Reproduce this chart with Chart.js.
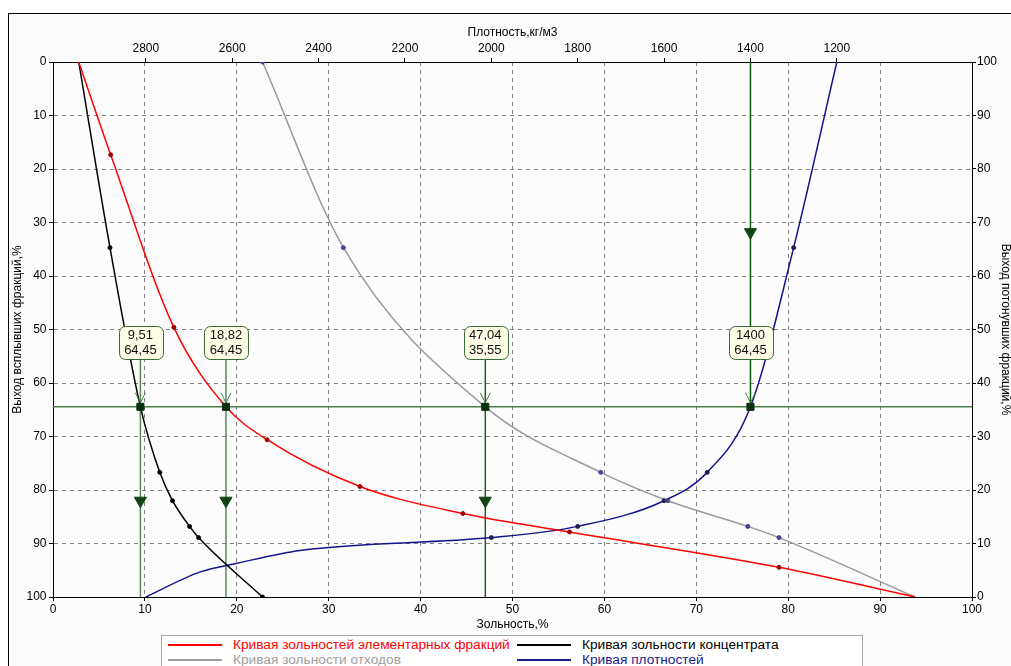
<!DOCTYPE html>
<html>
<head>
<meta charset="utf-8">
<script src="https://cdn.jsdelivr.net/npm/chart.js@4.4.1/dist/chart.umd.min.js"></script>
<style>
    html, body { margin: 0; padding: 0; background: #fff; }
    body { width: 1011px; height: 666px; overflow: hidden; position: relative; font-family: "Liberation Sans", Arial, sans-serif; }
    #frame { position: absolute; left: 8px; top: 13px; width: 1010px; height: 660px; border-left: 1px solid #000; border-top: 1px solid #000; background: #fcfcfc; }
    #chart { position: absolute; left: 0; top: 0; }
    #legend { position: absolute; left: 161px; top: 635px; width: 700px; height: 40px; border: 1px solid #a8a8a8; background: #fff; font-size: 13.7px; }
    #legend .item { position: absolute; height: 15px; line-height: 15px; white-space: nowrap; }
    #legend .ln { position: absolute; top: 7px; width: 54px; height: 1.5px; }
    #legend .tx { position: absolute; }
</style>
</head>
<body>
<div id="frame"></div>
<canvas id="chart" width="1011" height="666"></canvas>
<div id="legend"></div>
<script>
// elementary fractions (red): ash of each fraction at the middle of its yield band
const redDotAsh = [6.28, 13.15, 23.3, 33.4, 44.6, 56.2, 79.0];
const redDotYield = [17.35, 49.6, 70.6, 79.35, 84.4, 87.85, 94.45];
const redEndAsh = [2.8, 18.82, 93.8];
const redEndYield = [0, 64.45, 100];

// concentrate (black)
const blackDotAsh = [6.2, 11.62, 13.0, 14.86, 15.84, 22.8];
const blackDotYield = [34.7, 76.7, 82.0, 86.8, 88.9, 100];
const blackEndAsh = [2.8, 9.51];
const blackEndYield = [0, 64.45];

// tailings (gray), right axis = sinks yield
const grayDotAsh = [22.8, 31.6, 59.6, 66.9, 75.6, 79.0];
const grayDotSinks = [100, 65.3, 23.3, 18.0, 13.2, 11.1];
const grayEndAsh = [47.04, 93.8];
const grayEndSinks = [35.55, 0];

// density curve (blue), top axis
const blueDotDensity = [1300, 1500, 1600, 1800, 2000];
const blueDotYield = [34.7, 76.7, 82.0, 86.8, 88.9];
const blueEndDensity = [1200, 1400, 2443, 2589, 2674, 2800];
const blueEndYield = [0, 64.45, 91.3, 93.7, 95.3, 100];

const densityTicks = [2800, 2600, 2400, 2200, 2000, 1800, 1600, 1400, 1200];

// cut at density 1400
const cutDensity = 1400;
const cutYield = 64.45;
const cutAsh = [9.51, 18.82, 47.04];
const cutSecond = [64.45, 64.45, 35.55];
const arrowYield = 82;
const arrowYieldTop = 31.8;

const seriesNames = ['Кривая зольностей элементарных фракций', 'Кривая зольности концентрата', 'Кривая зольности отходов', 'Кривая плотностей'];
const seriesColors = ['#ff0000', '#000000', '#a0a0a0', '#1c1c8c'];

const pts = (xs, ys) => xs.map((x, i) => ({ x: x, y: ys[i] }));
const curve = (a, b, key) => a.concat(b).sort((p, q) => p[key] - q[key]);
const fmt = v => v.toFixed(2).replace('.', ',');

const FONT = 'Liberation Sans';
const tickFont = { family: FONT, size: 12 };

function line(ctx, x1, y1, x2, y2) {
    ctx.beginPath();
    ctx.moveTo(x1, y1);
    ctx.lineTo(x2, y2);
    ctx.stroke();
}

const guides = {
    id: 'guides',
    beforeDatasetsDraw(chart) {
        const { ctx, chartArea: a, scales } = chart;
        const yPx = scales.y.getPixelForValue(cutYield);
        ctx.save();
        ctx.lineWidth = 1.5;
        ctx.strokeStyle = '#4b7d4b';
        line(ctx, a.left, yPx, a.right, yPx);
        cutAsh.forEach((v, i) => {
            const x = scales.x.getPixelForValue(v);
            ctx.strokeStyle = i < 2 ? '#5a8a5a' : '#1f5f1f';
            line(ctx, x, yPx - 48, x, a.bottom);
        });
        const xd = scales.x2.getPixelForValue(cutDensity);
        ctx.strokeStyle = '#0c5c0c';
        line(ctx, xd, a.top, xd, yPx);
        ctx.restore();
    },
    afterDatasetsDraw(chart) {
        const { ctx, scales } = chart;
        const yPx = scales.y.getPixelForValue(cutYield);
        const marks = cutAsh.map((v, i) => ({ x: scales.x.getPixelForValue(v), t: [fmt(v), fmt(cutSecond[i])] }));
        marks.push({ x: scales.x2.getPixelForValue(cutDensity), t: [String(cutDensity), fmt(cutYield)] });
        ctx.save();
        marks.forEach(m => {
            // open arrow head above the point
            ctx.strokeStyle = '#3f7f3f';
            ctx.lineWidth = 1;
            ctx.beginPath();
            ctx.moveTo(m.x - 5, yPx - 14);
            ctx.lineTo(m.x, yPx - 4);
            ctx.lineTo(m.x + 5, yPx - 14);
            ctx.stroke();
            // label box
            ctx.font = '13px ' + FONT;
            const w = Math.max(ctx.measureText(m.t[0]).width, ctx.measureText(m.t[1]).width) + 11;
            const h = 33;
            const top = yPx - 48 - h;
            ctx.beginPath();
            ctx.roundRect(Math.round(m.x - w / 2) + 0.5, Math.round(top) + 0.5, Math.round(w), h, 6);
            ctx.fillStyle = '#fdfde6';
            ctx.fill();
            ctx.strokeStyle = '#3a6a3a';
            ctx.stroke();
            ctx.fillStyle = '#111';
            ctx.textAlign = 'center';
            ctx.textBaseline = 'middle';
            ctx.fillText(m.t[0], m.x, top + 9.5);
            ctx.fillText(m.t[1], m.x, top + 25);
        });
        ctx.restore();
    }
};

const axisBorder = { display: true, color: '#000', width: 1, dash: [4, 4] };

new Chart('chart', {
    type: 'line',
    data: {
        datasets: [
            {
                data: pts(cutAsh, cutAsh.map(() => cutYield)), xAxisID: 'x', yAxisID: 'y',
                showLine: false, pointStyle: 'rect', pointRadius: 5, backgroundColor: '#0b2e0b', borderColor: '#0b2e0b', order: -2
            },
            {
                data: [{ x: cutDensity, y: cutYield }], xAxisID: 'x2', yAxisID: 'y',
                showLine: false, pointStyle: 'rect', pointRadius: 5, backgroundColor: '#0b2e0b', borderColor: '#0b2e0b', order: -2
            },
            {
                data: pts(cutAsh, cutAsh.map(() => arrowYield)), xAxisID: 'x', yAxisID: 'y',
                showLine: false, pointStyle: 'triangle', rotation: 180, pointRadius: 7, backgroundColor: '#144414', borderColor: '#144414', order: -2
            },
            {
                data: [{ x: cutDensity, y: arrowYieldTop }], xAxisID: 'x2', yAxisID: 'y',
                showLine: false, pointStyle: 'triangle', rotation: 180, pointRadius: 7, backgroundColor: '#144414', borderColor: '#144414', order: -2
            },
            // dots
            { data: pts(redDotAsh, redDotYield), xAxisID: 'x', yAxisID: 'y', showLine: false, pointRadius: 2, backgroundColor: '#a00000', borderColor: '#a00000', order: -1 },
            { data: pts(blackDotAsh, blackDotYield), xAxisID: 'x', yAxisID: 'y', showLine: false, pointRadius: 2, backgroundColor: '#000', borderColor: '#000', order: -1 },
            { data: pts(grayDotAsh, grayDotSinks), xAxisID: 'x', yAxisID: 'y2', showLine: false, pointRadius: 2, backgroundColor: '#44449a', borderColor: '#44449a', order: -1 },
            { data: pts(blueDotDensity, blueDotYield), xAxisID: 'x2', yAxisID: 'y', showLine: false, pointRadius: 2, backgroundColor: '#20204a', borderColor: '#20204a', order: -1 },
            // curves
            { data: curve(pts(redDotAsh, redDotYield), pts(redEndAsh, redEndYield), 'x'), xAxisID: 'x', yAxisID: 'y', borderColor: seriesColors[0], borderWidth: 1.5, pointRadius: 0, cubicInterpolationMode: 'monotone' },
            { data: curve(pts(blackDotAsh, blackDotYield), pts(blackEndAsh, blackEndYield), 'x'), xAxisID: 'x', yAxisID: 'y', borderColor: '#000', borderWidth: 1.5, pointRadius: 0, cubicInterpolationMode: 'monotone' },
            { data: curve(pts(grayDotAsh, grayDotSinks), pts(grayEndAsh, grayEndSinks), 'x'), xAxisID: 'x', yAxisID: 'y2', borderColor: '#999', borderWidth: 1.5, pointRadius: 0, cubicInterpolationMode: 'monotone' },
            { data: curve(pts(blueDotDensity, blueDotYield), pts(blueEndDensity, blueEndYield), 'x').reverse(), xAxisID: 'x2', yAxisID: 'y', borderColor: '#14148c', borderWidth: 1.5, pointRadius: 0, cubicInterpolationMode: 'monotone' }
        ]
    },
    options: {
        responsive: false,
        animation: false,
        devicePixelRatio: 1,
        layout: { padding: 0 },
        plugins: { legend: { display: false }, tooltip: { enabled: false } },
        scales: {
            x: {
                type: 'linear', position: 'bottom', min: 0, max: 100,
                afterFit: s => { s.height = 69; },
                ticks: { stepSize: 10, font: tickFont, color: '#000', padding: 1.5 },
                grid: { color: '#808080', tickColor: '#000', tickLength: 4, tickBorderDash: [] },
                border: axisBorder,
                title: { display: true, text: 'Зольность,%', color: '#000', font: tickFont, padding: { top: 0, bottom: 34 } }
            },
            x2: {
                type: 'linear', position: 'top', min: 887, max: 3015, reverse: true,
                afterFit: s => { s.height = 62; },
                afterBuildTicks: s => { s.ticks = densityTicks.map(v => ({ value: v })); },
                ticks: { font: tickFont, color: '#000', padding: 2, callback: v => String(v) },
                grid: { drawOnChartArea: false, tickColor: '#000', tickLength: 4 },
                border: { display: true, color: '#000', width: 1 },
                title: { display: true, text: 'Плотность,кг/м3', color: '#000', font: tickFont, padding: { top: 25, bottom: 0 } }
            },
            y: {
                type: 'linear', position: 'left', min: 0, max: 100, reverse: true,
                afterFit: s => { s.width = 53; },
                ticks: { stepSize: 10, font: tickFont, color: '#000', padding: 2.5 },
                grid: { color: '#808080', tickColor: '#000', tickLength: 4, tickBorderDash: [] },
                border: axisBorder,
                title: { display: true, text: 'Выход всплывших фракций,%', color: '#000', font: tickFont, padding: { top: 10, bottom: 0 } }
            },
            y2: {
                type: 'linear', position: 'right', min: 0, max: 100,
                afterFit: s => { s.width = 39; },
                ticks: { stepSize: 10, font: tickFont, color: '#000', padding: 1 },
                grid: { drawOnChartArea: false, tickColor: '#000', tickLength: 4 },
                border: { display: true, color: '#000', width: 1 },
                title: { display: true, text: 'Выход потонувших фракций,%', color: '#000', font: { family: FONT, size: 12, lineHeight: 1 }, padding: { top: 0, bottom: 0 } }
            }
        }
    },
    plugins: [guides]
});

// legend below the plot, two columns
const legend = document.getElementById('legend');
const cols = [6, 355];
seriesNames.forEach((name, i) => {
    const item = document.createElement('div');
    item.className = 'item';
    item.style.left = cols[i % 2] + 'px';
    item.style.top = (1 + Math.floor(i / 2) * 15) + 'px';
    item.innerHTML = '<span class="ln" style="background:' + seriesColors[i] + '"></span>' +
        '<span class="tx" style="left:65px;color:' + seriesColors[i] + '">' + name + '</span>';
    legend.appendChild(item);
});
</script>
</body>
</html>
